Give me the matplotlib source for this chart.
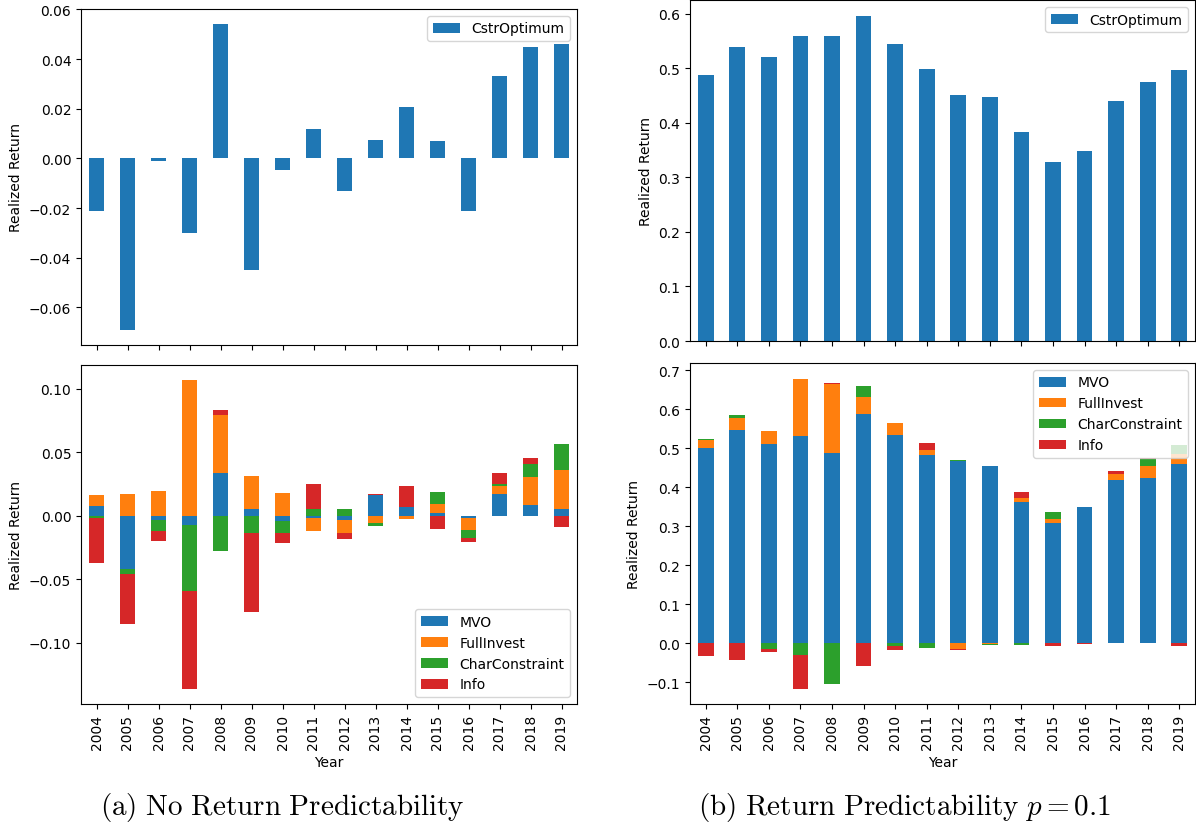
import numpy as np
import pandas as pd
import matplotlib
matplotlib.use("Agg")
import matplotlib.pyplot as plt

plt.rcParams["mathtext.fontset"] = "cm"

years = list(range(2004, 2020))

# (a) no return predictability
cstr_a = [-0.021, -0.069, -0.001, -0.030, 0.054, -0.045, -0.0045, 0.012,
          -0.013, 0.0075, 0.0205, 0.007, -0.021, 0.033, 0.045, 0.046]
mvo_a = [0.0073, -0.0417, -0.003, -0.0076, 0.0336, 0.005, -0.0045, -0.002,
         -0.003, 0.016, 0.0065, 0.0018, -0.002, 0.017, 0.0081, 0.005]
full_a = [0.009, 0.017, 0.0194, 0.1066, 0.0461, 0.0265, 0.0181, -0.0102,
          -0.011, -0.006, -0.0024, 0.0076, -0.0094, 0.0063, 0.0225, 0.0309]
char_a = [-0.002, -0.0045, -0.0094, -0.0517, -0.028, -0.0136, -0.0092, 0.0055,
          0.0055, -0.0024, 0.0, 0.0094, -0.0063, 0.0016, 0.010, 0.0204]
info_a = [-0.035, -0.0389, -0.0079, -0.0769, 0.0034, -0.0622, -0.0079, 0.0197,
          -0.0047, 0.0008, 0.017, -0.0107, -0.0031, 0.0089, 0.0047, -0.0092]

# (b) return predictability p = 0.1
cstr_b = [0.487, 0.538, 0.520, 0.558, 0.558, 0.595, 0.544, 0.498,
          0.450, 0.447, 0.382, 0.328, 0.348, 0.440, 0.474, 0.496]
mvo_b = [0.499, 0.5455, 0.511, 0.5317, 0.488, 0.5883, 0.5343, 0.4829,
         0.467, 0.4528, 0.362, 0.307, 0.350, 0.4185, 0.4245, 0.4597]
full_b = [0.0206, 0.0326, 0.0334, 0.1467, 0.1775, 0.0437, 0.0309, 0.0129,
          -0.015, -0.0026, 0.010, 0.012, 0.0, 0.0154, 0.030, 0.0257]
char_b = [0.0043, 0.0077, -0.0146, -0.0317, -0.1063, 0.0283, -0.0086, -0.0137,
          0.002, -0.002, -0.005, 0.018, 0.0, 0.0, 0.0163, 0.0214]
info_b = [-0.034, -0.0446, -0.0077, -0.0849, 0.0026, -0.060, -0.0086, 0.0172,
          -0.003, 0.0, 0.015, -0.0086, -0.002, 0.0077, 0.004, -0.0077]

idx = pd.Index(years, name="Year")
top_a = pd.DataFrame({"CstrOptimum": cstr_a}, index=idx)
top_b = pd.DataFrame({"CstrOptimum": cstr_b}, index=idx)
parts_a = pd.DataFrame({"MVO": mvo_a, "FullInvest": full_a,
                        "CharConstraint": char_a, "Info": info_a}, index=idx)
parts_b = pd.DataFrame({"MVO": mvo_b, "FullInvest": full_b,
                        "CharConstraint": char_b, "Info": info_b}, index=idx)

W, H = 1196, 828
fig = plt.figure(figsize=(W / 100, H / 100), dpi=100)


def box(x0, y0, x1, y1):
    return [x0 / W, 1 - y1 / H, (x1 - x0) / W, (y1 - y0) / H]


ax1 = fig.add_axes(box(81, 10, 577, 346))
ax2 = fig.add_axes(box(81, 366, 577, 705))
ax3 = fig.add_axes(box(690, 1, 1195, 342))
ax4 = fig.add_axes(box(690, 364, 1195, 705))

top_a.plot.bar(ax=ax1)
parts_a.plot.bar(ax=ax2, stacked=True)
top_b.plot.bar(ax=ax3)
parts_b.plot.bar(ax=ax4, stacked=True)

for ax in (ax1, ax3):
    ax.tick_params(axis="x", labelbottom=False)
    ax.set_xlabel("")
    ax.legend(loc="upper right")

ax2.legend(loc="lower right")
ax4.legend(loc="upper right")

for ax in (ax1, ax2, ax3, ax4):
    ax.set_ylabel("Realized Return")

# subfigure captions
fig.text(282 / W, 1 - 808 / H, r"$\mathrm{(a)\ No\ Return\ Predictability}$",
         ha="center", va="center", fontsize=21)
fig.text(904 / W, 1 - 808 / H, r"$\mathrm{(b)\ Return\ Predictability}\ p=0.1$",
         ha="center", va="center", fontsize=21)

fig.savefig("out.png", dpi=100)
